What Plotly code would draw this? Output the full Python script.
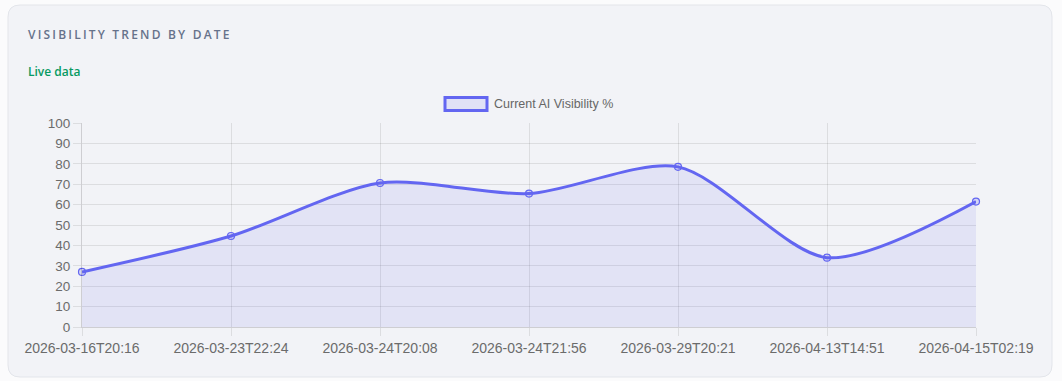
import plotly.graph_objects as go

dates = ["2026-03-16T20:16", "2026-03-23T22:24", "2026-03-24T20:08", "2026-03-24T21:56",
         "2026-03-29T20:21", "2026-04-13T14:51", "2026-04-15T02:19"]
visibility = [27.0, 44.6, 70.6, 65.4, 78.5, 34.0, 61.5]
y_ticks = [0, 10, 20, 30, 40, 50, 60, 70, 80, 90, 100]
series_name = "Current AI Visibility %"

W, H = 1062, 381
ML, MR, MT, MB = 82, 86, 123, 54
PW, PH = W - ML - MR, H - MT - MB
LINE = "#6366f1"
FILL = "rgba(99,102,241,0.11)"
GRID = "rgba(0,0,0,0.09)"

fig = go.Figure()
fig.add_trace(go.Scatter(
    x=dates, y=visibility, mode="lines+markers", name=series_name,
    line=dict(color=LINE, width=3, shape="spline", smoothing=0.8),
    fill="tozeroy", fillcolor=FILL,
    marker=dict(size=7, color="rgba(99,102,241,0.2)", line=dict(color=LINE, width=1.2)),
    cliponaxis=False, showlegend=False, hoverinfo="x+y",
))

def px(x):
    return (x - ML) / PW

def py(y):
    return (H - MB - y) / PH

# card background (rounded rect in paper coords)
x0, x1, y0, y1, r = 8, 1052, 5, 377, 12
path = (f"M {px(x0+r)},{py(y0)} L {px(x1-r)},{py(y0)} "
        f"Q {px(x1)},{py(y0)} {px(x1)},{py(y0+r)} L {px(x1)},{py(y1-r)} "
        f"Q {px(x1)},{py(y1)} {px(x1-r)},{py(y1)} L {px(x0+r)},{py(y1)} "
        f"Q {px(x0)},{py(y1)} {px(x0)},{py(y1-r)} L {px(x0)},{py(y0+r)} "
        f"Q {px(x0)},{py(y0)} {px(x0+r)},{py(y0)} Z")

shapes = [
    dict(type="path", path=path, xref="paper", yref="paper", layer="below",
         fillcolor="#f2f3f7", line=dict(color="#e3e5ea", width=1)),
    # legend swatch
    dict(type="rect", xref="paper", yref="paper", layer="above",
         x0=px(445), x1=px(487), y0=py(110.5), y1=py(97.5),
         fillcolor="rgba(99,102,241,0.12)", line=dict(color=LINE, width=3)),
]

annotations = [
    dict(text='<span style="letter-spacing:2.2px">VISIBILITY TREND BY DATE</span>',
         xref="paper", yref="paper", x=px(26), y=py(34), xanchor="left", yanchor="middle",
         showarrow=False, font=dict(family="Open Sans", size=12, color="#66728b", weight=600)),
    dict(text="Live data", xref="paper", yref="paper", x=px(26), y=py(71),
         xanchor="left", yanchor="middle", showarrow=False,
         font=dict(family="Open Sans", size=12, color="#079a62", weight=600)),
    dict(text=series_name, xref="paper", yref="paper", x=px(492), y=py(104),
         xanchor="left", yanchor="middle", showarrow=False,
         font=dict(family="Liberation Sans, Arial", size=12.5, color="#666666")),
]

fig.update_layout(
    width=W, height=H,
    margin=dict(l=ML, r=MR, t=MT, b=MB),
    paper_bgcolor="#fbfbfc", plot_bgcolor="rgba(0,0,0,0)",
    shapes=shapes, annotations=annotations,
    font=dict(family="Liberation Sans, Arial", size=12, color="#666666"),
    xaxis=dict(type="category", range=[0, 6], showgrid=True, gridcolor=GRID, gridwidth=1,
               ticks="outside", ticklen=8, tickcolor=GRID, showline=True,
               linecolor="rgba(0,0,0,0.15)", zeroline=False, fixedrange=True,
               tickfont=dict(size=14, color="#6b6b6b")),
    yaxis=dict(range=[0, 100], tickvals=y_ticks, showgrid=True, gridcolor=GRID, gridwidth=1,
               ticks="outside", ticklen=8, tickcolor=GRID, showline=True,
               linecolor="rgba(0,0,0,0.15)", zeroline=False, fixedrange=True,
               tickfont=dict(size=13.5, color="#6b6b6b")),
    hovermode="closest",
)

fig.write_html("out.html", config={"displayModeBar": False})
